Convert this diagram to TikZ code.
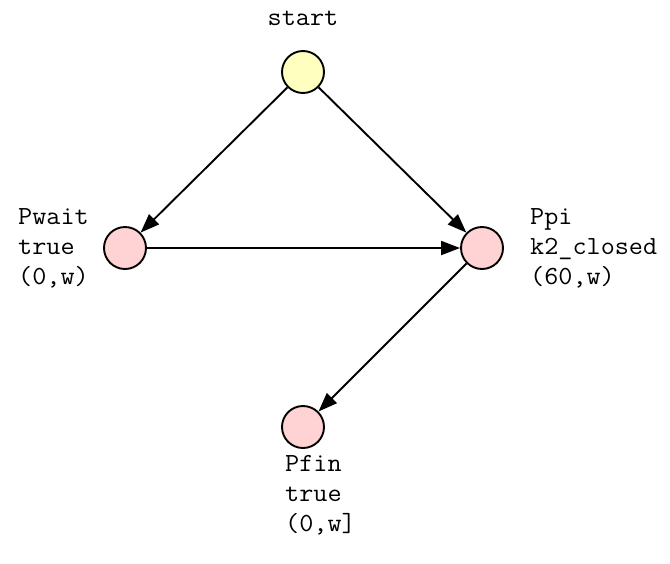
\documentclass[tikz,border=0pt]{standalone}
\usepackage{fontspec}
\setmonofont[FakeStretch=1.05]{Latin Modern Mono}
\usetikzlibrary{arrows.meta}
\definecolor{startfill}{HTML}{FFFFC0}
\definecolor{placefill}{HTML}{FFD3D3}
\begin{document}
\begin{tikzpicture}[x=1pt,y=-1pt,
  place/.style={circle,draw=black,line width=1.9pt,minimum size=42pt,inner sep=0pt,fill=placefill},
  lbl/.style={font=\ttfamily\fontsize{26.1}{30}\selectfont,align=left,inner sep=0pt},
  edge/.style={line width=1.9pt,-{Triangle[length=19pt,width=14pt]}}]
  \useasboundingbox (0,0) rectangle (670,563);
  \node[place,fill=startfill] (start) at (303,72) {};
  \node[place] (pwait) at (125,248) {};
  \node[place] (ppi) at (482,248) {};
  \node[place] (pfin) at (303,427) {};
  \node[lbl,anchor=center] (tstart) at (303,18) {start};
  \node[lbl,anchor=west] (twait) at (18,248) {Pwait\\true\\(0,w)};
  \node[lbl,anchor=west] (tpi) at (530,248) {Ppi\\k2\_closed\\(60,w)};
  \node[lbl,anchor=west] (tfin) at (285,495) {Pfin\\true\\(0,w]};
  \draw[edge] (start) -- (pwait);
  \draw[edge] (start) -- (ppi);
  \draw[edge] (pwait) -- (ppi);
  \draw[edge] (ppi) -- (pfin);
\end{tikzpicture}
\end{document}
